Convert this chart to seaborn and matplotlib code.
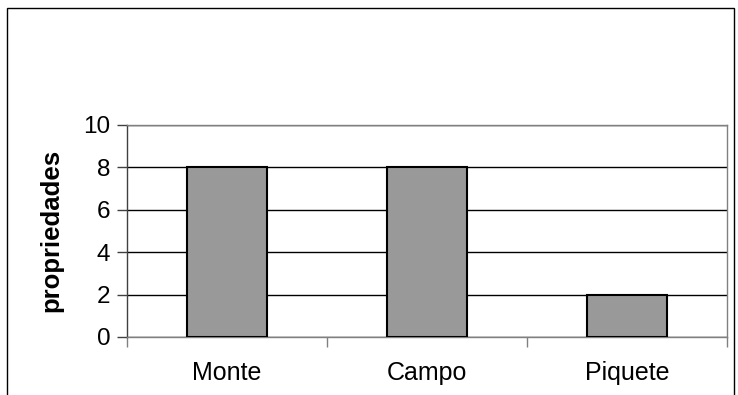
import pandas as pd
import matplotlib.pyplot as plt
import seaborn as sns
from matplotlib.patches import Rectangle

# categorias e numero de propriedades
categorias = ["Monte", "Campo", "Piquete"]
propriedades = [8, 8, 2]
yticks = [0, 2, 4, 6, 8, 10]

df = pd.DataFrame({"categoria": categorias, "propriedades": propriedades})

sns.set_style("white")
plt.rcParams['font.family'] = ['Liberation Sans', 'DejaVu Sans']
plt.rcParams['text.color'] = 'black'
plt.rcParams['axes.labelcolor'] = 'black'
plt.rcParams['xtick.color'] = 'black'
plt.rcParams['ytick.color'] = 'black'

fig = plt.figure(figsize=(7.38, 3.95), dpi=100)
ax = fig.add_axes([0.172, 0.147, 0.813, 0.537])

sns.barplot(data=df, x="categoria", y="propriedades", color="#999999",
            width=0.4, edgecolor="black", linewidth=1.5, saturation=1, ax=ax, zorder=3)

ax.set_ylim(0, 10)
ax.set_xlim(-0.5, 2.5)
ax.set_yticks(yticks)
ax.yaxis.grid(True, color="black", linewidth=1)
ax.set_axisbelow(True)

# tick marks between categories
ax.set_xticks([-0.5, 0.5, 1.5, 2.5], minor=True)
ax.tick_params(axis="x", which="minor", bottom=True, length=7, width=1, color="#808080")
ax.tick_params(axis="x", which="major", bottom=False, length=0, labelsize=18, pad=17,
               labelcolor="black")
ax.tick_params(axis="y", left=True, length=7, width=1, color="#404040", labelsize=17.5, pad=5,
               labelcolor="black")

for s in ["top", "right", "bottom"]:
    ax.spines[s].set_color("#808080")
ax.spines["left"].set_color("#404040")
for s in ax.spines.values():
    s.set_linewidth(1)

ax.set_xlabel("")
ax.set_ylabel("propriedades", fontsize=18.5, fontweight="bold", labelpad=14, color="black")

# outer chart frame
fig.patches.append(Rectangle((7 / 738, -0.01), 0.995 - 7 / 738, 1 - 8 / 395 + 0.01,
                             transform=fig.transFigure, fill=False,
                             edgecolor="black", linewidth=1))

plt.savefig("out.png", dpi=100)
